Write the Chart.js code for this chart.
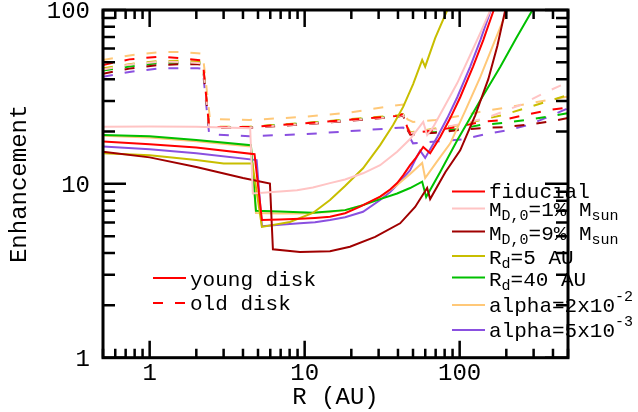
<!DOCTYPE html>
<html>
<head>
<meta charset="utf-8">
<script src="https://cdn.jsdelivr.net/npm/chart.js@4.4.1/dist/chart.umd.min.js"></script>
<style>
  html, body { margin: 0; padding: 0; background: #fff; }
</style>
</head>
<body>
<canvas id="grafico" width="638" height="412"></canvas>
<script>
// Eixos (log-log)
const xRange = [0.5, 500];
const yRange = [1, 100];
const xTickLabels = [1, 10, 100];
const yTickLabels = [1, 10, 100];
const xMinorTicks = [0.5, 0.6, 0.7, 0.8, 0.9, 1, 2, 3, 4, 5, 6, 7, 8, 9, 10, 20, 30, 40, 50, 60, 70, 80, 90, 100, 200, 300, 400, 500];
const yMinorTicks = [1, 2, 3, 4, 5, 6, 7, 8, 9, 10, 20, 30, 40, 50, 60, 70, 80, 90, 100];

// young disk (linhas cheias) -> [R (AU), enhancement]
const fiducialYoung = [[0.5,17.5],[1,16.9],[2,16.2],[4.75,14.8],[5.3,6.19],[6.92,6.24],[9.32,6.3],[11.66,6.37],[14.57,6.46],[18.22,6.78],[22.78,7.39],[30.68,8.45],[35.6,9.28],[39.5,10.1],[43.2,11.2],[47.9,12.8],[51.6,13.9],[58.2,16.3],[64.5,15.0],[74.9,18.6],[87,23.9],[100.8,31.5],[122,47.3],[142,67.1],[166,100]];
const mass1Young = [[0.5,21.3],[1,21.4],[2,21.3],[4.45,20.9],[4.63,8.8],[6.92,9.04],[8.92,9.2],[11.3,9.53],[14.57,10.1],[18.22,10.6],[23.8,11.5],[30.68,12.8],[39.5,15.3],[47.9,18.1],[58.2,22.7],[61.7,19.1],[67.4,21.2],[80.8,28.4],[96.5,38.0],[117,55.1],[136,73.8],[158,100]];
const mass9Young = [[0.5,15.3],[1,14.2],[2,12.5],[4,10.8],[5.97,10.05],[6.24,4.2],[9.32,4.06],[14.57,4.1],[19.6,4.35],[28.5,4.95],[41.3,5.93],[51.6,7.36],[61.7,9.46],[64.5,8.18],[80.8,11.67],[100.8,15.6],[126,24.8],[153,40.0],[175,62.1],[197,100]];
const rd5Young = [[0.5,15.0],[1,14.6],[2,13.7],[3,13.1],[4.6,13.1],[5.3,5.65],[8.03,6.03],[11.3,6.8],[14.57,8.07],[18.22,9.72],[23.8,12.3],[30.68,16.7],[37.2,21.8],[43.2,27.7],[50.1,37.5],[57.3,51.6],[59.9,47.2],[69.6,69.1],[83.2,100]];
const rd40Young = [[0.5,19.1],[1,18.8],[2,17.9],[4.5,16.7],[4.85,7.0],[6.92,6.93],[11.3,6.82],[18.22,7.06],[23.8,7.54],[30.68,8.17],[39.5,8.8],[47.9,9.46],[57.3,10.3],[60.8,8.4],[74.9,11.7],[96.5,17.8],[136,30.3],[183,47.1],[232,69.1],[295,100]];
const alpha2Young = [[0.5,18.9],[1,18.5],[2,17.6],[4.5,16.4],[4.85,6.79],[6.92,6.75],[9.32,6.75],[14.57,6.88],[18.22,7.06],[23.8,7.54],[30.68,8.4],[39.5,9.86],[47.9,11.4],[57.3,13.2],[59.9,10.8],[71.7,13.5],[87,17.1],[108.6,26.3],[136,41.2],[167,65.2],[203,100]];
const alpha5Young = [[0.5,16.4],[1,15.8],[2,15.0],[4.9,13.7],[5.3,5.71],[6.92,5.82],[9.32,5.93],[11.66,6.01],[14.57,6.19],[18.22,6.43],[23.8,6.91],[30.68,8.07],[35.6,8.98],[39.5,9.86],[43.2,10.8],[47.9,12.0],[51.6,13.7],[55.6,15.5],[59.9,14.1],[71.7,18.6],[83.2,23.9],[96.5,31.5],[117,47.3],[136,67.1],[159,100]];

// old disk (linhas tracejadas)
const fiducialOld = [[0.5,48.3],[0.74,52.0],[1.16,53.9],[1.6,52.8],[2.04,51.6],[2.2,51.3],[2.42,21.2],[4.4,21.2],[10,22.3],[40,24.6],[43.2,25.3],[46,21],[48,19.5],[60,20.0],[96.5,21.2],[136,22.7],[191,23.3],[265,24.9],[368,26.5],[500,27.5]];
const mass1Old = [[0.5,45.5],[0.74,48.5],[1.16,50.5],[1.6,50.2],[2.04,49.5],[2.2,49.3],[2.42,21.2],[4.4,21.1],[10,22.1],[40,24.4],[43.2,25],[46,21],[48,19.6],[70,20.6],[100,22],[150,24],[246,28.4],[350,33.3],[500,38.5]];
const mass9Old = [[0.5,43],[0.74,46],[1.16,48.3],[1.6,48.8],[2.04,48.8],[2.2,48.5],[2.42,21],[4.4,21],[10,22],[40,24.3],[43.2,24.8],[46,20.5],[48,19.2],[70,19.7],[100,20.4],[136,20.9],[191,21.2],[265,21.8],[368,22.7],[500,23.9]];
const rd5Old = [[0.5,46.2],[0.74,48.8],[1.16,50.9],[1.6,51],[2.04,50.5],[2.2,50.3],[2.42,21.3],[4.4,21.3],[10,22.4],[40,24.8],[43.2,25.2],[46,21.2],[48,19.8],[70,20.8],[100,21.8],[136,23.3],[191,24.9],[265,27.2],[368,29.8],[500,32.4]];
const rd40Old = [[0.5,44.8],[0.74,47.3],[1.16,49.6],[1.6,49.8],[2.04,49.6],[2.2,49.3],[2.42,21.2],[4.4,21.2],[10,22.3],[40,24.6],[43.2,25.1],[46,20.8],[48,19.5],[70,19.9],[100,20.7],[136,21.8],[191,22.4],[265,23.3],[368,24.3],[500,25.5]];
const alpha2Old = [[0.5,51.6],[0.74,54.8],[1.16,57.3],[1.6,57.3],[2.04,56.4],[2.2,56],[2.45,23.6],[4.4,23.3],[10,24.3],[20,25.8],[37,28.1],[43.2,28.6],[46,23.5],[50,22.7],[70,23.3],[100,24.6],[136,26],[191,27.3],[265,28.7],[368,30.3],[500,31.8]];
const alpha5Old = [[0.5,41.3],[0.74,44],[1.16,46.2],[1.6,46.3],[2.04,46.2],[2.2,46],[2.42,19.3],[4.4,18.8],[10,19.3],[37,20.9],[43.2,21.1],[46,19.6],[50,17.1],[104,18.0],[146,19.3],[206,20.4],[278,21.8],[373,24.3],[500,27.2]];

const cores = ["#ff0000", "#ffc4c4", "#a00000", "#c8be00", "#00c000", "#ffc878", "#8a50e0"];
const young = [fiducialYoung, mass1Young, mass9Young, rd5Young, rd40Young, alpha2Young, alpha5Young];
const old = [fiducialOld, mass1Old, mass9Old, rd5Old, rd40Old, alpha2Old, alpha5Old];

const FONTE = '"Liberation Mono", "DejaVu Sans Mono", monospace';

const toXY = arr => arr.map(p => ({ x: p[0], y: p[1] }));

const datasets = [];
young.forEach((serie, i) => datasets.push({
    data: toXY(serie), borderColor: cores[i], borderWidth: 2, pointRadius: 0, fill: false
}));
old.forEach((serie, i) => datasets.push({
    data: toXY(serie), borderColor: cores[i], borderWidth: 2, pointRadius: 0, fill: false, borderDash: [10, 12]
}));

// texto com sub/sobrescrito
const drawRich = (ctx, x, y, partes) => {
    partes.forEach(p => {
        ctx.font = (p.sub || p.sup ? "15px " : "21px ") + FONTE;
        const dy = p.sub ? 6 : (p.sup ? -9 : 0);
        ctx.fillText(p.t, x, y + dy);
        x += ctx.measureText(p.t).width;
    });
};

const legendaDireita = [
    { ly: 191.5, ty: 192, parts: [{ t: "fiducial" }] },
    { ly: 208.5, ty: 210, parts: [{ t: "M" }, { t: "D,0", sub: true }, { t: "=1% M" }, { t: "sun", sub: true }] },
    { ly: 231.5, ty: 234, parts: [{ t: "M" }, { t: "D,0", sub: true }, { t: "=9% M" }, { t: "sun", sub: true }] },
    { ly: 256, ty: 258, parts: [{ t: "R" }, { t: "d", sub: true }, { t: "=5 AU" }] },
    { ly: 277.5, ty: 280, parts: [{ t: "R" }, { t: "d", sub: true }, { t: "=40 AU" }] },
    { ly: 305, ty: 306, parts: [{ t: "alpha=2x10" }, { t: "-2", sup: true }] },
    { ly: 330, ty: 331, parts: [{ t: "alpha=5x10" }, { t: "-3", sup: true }] }
];

const eixos = {
    id: "eixos",
    afterDraw(chart) {
        const { ctx, chartArea: a, scales: { x, y } } = chart;
        ctx.save();
        ctx.strokeStyle = "#000";
        ctx.lineWidth = 2.5;
        ctx.beginPath();
        xMinorTicks.forEach(v => {
            const px = x.getPixelForValue(v);
            const len = xTickLabels.includes(v) ? 17 : 9;
            ctx.moveTo(px, a.bottom); ctx.lineTo(px, a.bottom - len);
            ctx.moveTo(px, a.top); ctx.lineTo(px, a.top + len);
        });
        yMinorTicks.forEach(v => {
            const py = y.getPixelForValue(v);
            const len = yTickLabels.includes(v) ? 23 : 12;
            ctx.moveTo(a.left, py); ctx.lineTo(a.left + len, py);
            ctx.moveTo(a.right, py); ctx.lineTo(a.right - len, py);
        });
        ctx.stroke();
        ctx.lineWidth = 3;
        ctx.strokeRect(a.left, a.top, a.right - a.left, a.bottom - a.top);

        // rótulos dos ticks
        ctx.fillStyle = "#000";
        ctx.font = "24px " + FONTE;
        ctx.textBaseline = "middle";
        ctx.textAlign = "center";
        xTickLabels.forEach(v => ctx.fillText(String(v), x.getPixelForValue(v), a.bottom + 16));
        ctx.textAlign = "right";
        yTickLabels.forEach(v => ctx.fillText(String(v), a.left - 13, y.getPixelForValue(v) + 2));

        // títulos
        ctx.textAlign = "center";
        ctx.fillText("R (AU)", (a.left + a.right) / 2, a.bottom + 40);
        ctx.save();
        ctx.translate(20, (a.top + a.bottom) / 2);
        ctx.rotate(-Math.PI / 2);
        ctx.fillText("Enhancement", 0, 0);
        ctx.restore();

        // legenda young/old
        ctx.lineWidth = 2;
        ctx.strokeStyle = cores[0];
        ctx.beginPath(); ctx.moveTo(153, 278); ctx.lineTo(186, 278); ctx.stroke();
        ctx.setLineDash([10, 12]);
        ctx.beginPath(); ctx.moveTo(153, 303); ctx.lineTo(186, 303); ctx.stroke();
        ctx.setLineDash([]);
        ctx.textAlign = "left";
        ctx.font = "21px " + FONTE;
        ctx.fillText("young disk", 190, 280);
        ctx.fillText("old disk", 190, 304);

        // legenda dos modelos
        legendaDireita.forEach((item, i) => {
            ctx.strokeStyle = cores[i];
            ctx.beginPath(); ctx.moveTo(452, item.ly); ctx.lineTo(485, item.ly); ctx.stroke();
            drawRich(ctx, 489, item.ty, item.parts);
        });
        ctx.restore();
    }
};

new Chart(document.getElementById("grafico"), {
    type: "line",
    data: { datasets: datasets },
    options: {
        responsive: false,
        animation: false,
        layout: { padding: { top: 10, right: 70, left: 0, bottom: 0 } },
        plugins: { legend: { display: false }, tooltip: { enabled: false } },
        scales: {
            x: {
                type: "logarithmic", min: xRange[0], max: xRange[1],
                grid: { display: false }, border: { display: false },
                ticks: { display: false },
                afterFit: s => { s.height = 54.3; }
            },
            y: {
                type: "logarithmic", min: yRange[0], max: yRange[1],
                grid: { display: false }, border: { display: false },
                ticks: { display: false },
                afterFit: s => { s.width = 103; }
            }
        }
    },
    plugins: [eixos]
});
</script>
</body>
</html>
